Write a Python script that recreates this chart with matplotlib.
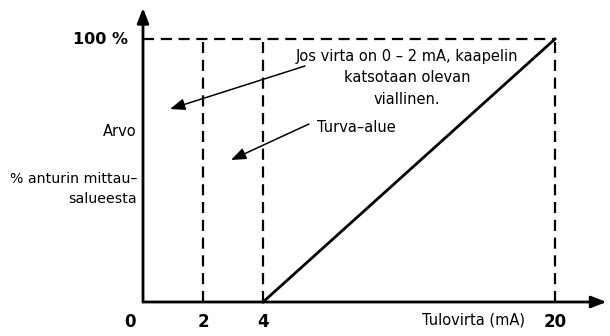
import numpy as np
import matplotlib.pyplot as plt
from matplotlib import font_manager

# input current (mA) and output value (% of sensor range)
signal_ma = [4, 20]
signal_pct = [0, 100]
fault_limit = 2
range_start = 4
range_end = 20
tick_vals = [0, 2, 4, 20]
tick_labels = ["0", "2", "4", "20"]

families = [f.name for f in font_manager.fontManager.ttflist]
fam = "Liberation Sans Narrow" if "Liberation Sans Narrow" in families else "DejaVu Sans"
plt.rcParams['font.family'] = [fam, 'DejaVu Sans']

# the 0-4 mA part of the axis is drawn stretched
k = 0.608


def fwd(x):
    x = np.asarray(x, dtype=float)
    return np.where(x <= 4, x, 4 + (x - 4) * k)


def inv(y):
    y = np.asarray(y, dtype=float)
    return np.where(y <= 4, y, 4 + (y - 4) / k)


fig = plt.figure(figsize=(6.10, 3.36), dpi=100)
ax = fig.add_axes([143 / 610, 34 / 336, 412 / 610, 263 / 336])
ax.set_xscale('function', functions=(fwd, inv))
ax.set_xlim(0, 20)
ax.set_ylim(0, 100)
ax.axis('off')

dash = dict(color='black', lw=1.6, ls=(0, (5, 3)), clip_on=False)
ax.plot([0, range_end], [100, 100], **dash)
ax.plot([fault_limit, fault_limit], [0, 100], **dash)
ax.plot([range_start, range_start], [0, 100], **dash)
ax.plot([range_end, range_end], [0, 100], **dash)

ax.plot(signal_ma, signal_pct, color='black', lw=2, clip_on=False)

# axes with arrow heads
arr = dict(arrowstyle='-|>,head_length=0.9,head_width=0.35', color='black',
           lw=2, shrinkA=0, shrinkB=0)
ax.annotate('', xy=(0, 1.118), xytext=(0, 0), xycoords='axes fraction',
            arrowprops=arr)
ax.annotate('', xy=(1.125, 0), xytext=(0, 0), xycoords='axes fraction',
            arrowprops=arr)

for v, lab in zip(tick_vals, tick_labels):
    xo = -13 if v == 0 else 0
    ax.annotate(lab, xy=(v, 0), xytext=(xo, -20), textcoords='offset pixels',
                ha='center', va='center', fontsize=12, fontweight='bold')
ax.annotate("100 %", xy=(0, 100), xytext=(-15, 0), textcoords='offset pixels',
            ha='right', va='center', fontsize=11.5, fontweight='bold')

fs = 10.5
ax.annotate("Arvo", xy=(0, 0), xytext=(137, 336 - 132),
            textcoords='figure pixels', ha='right', va='center', fontsize=fs)
ax.annotate("% anturin mittau–\nsalueesta", xy=(0, 0),
            xytext=(137, 336 - 189), textcoords='figure pixels',
            ha='right', va='center', fontsize=10.2, linespacing=1.5)
ax.annotate("Tulovirta (mA)", xy=(0, 0), xytext=(474, 336 - 320),
            textcoords='figure pixels', ha='center', va='center', fontsize=fs)

ax.annotate("Jos virta on 0 – 2 mA, kaapelin\nkatsotaan olevan\nviallinen.",
            xy=(0, 0), xytext=(407, 336 - 78), textcoords='figure pixels',
            ha='center', va='center', fontsize=fs, linespacing=1.55)
ax.annotate("Turva–alue", xy=(0, 0), xytext=(356, 336 - 128),
            textcoords='figure pixels', ha='center', va='center', fontsize=fs)

pointer = dict(arrowstyle='-|>,head_length=0.9,head_width=0.35', color='black',
               lw=1.1, shrinkA=0, shrinkB=0)
ax.annotate('', xy=(170, 336 - 109), xytext=(305, 336 - 66),
            xycoords='figure pixels', textcoords='figure pixels',
            arrowprops=pointer)
ax.annotate('', xy=(231, 336 - 160), xytext=(309, 336 - 124),
            xycoords='figure pixels', textcoords='figure pixels',
            arrowprops=pointer)

fig.savefig("out.png", dpi=100)
